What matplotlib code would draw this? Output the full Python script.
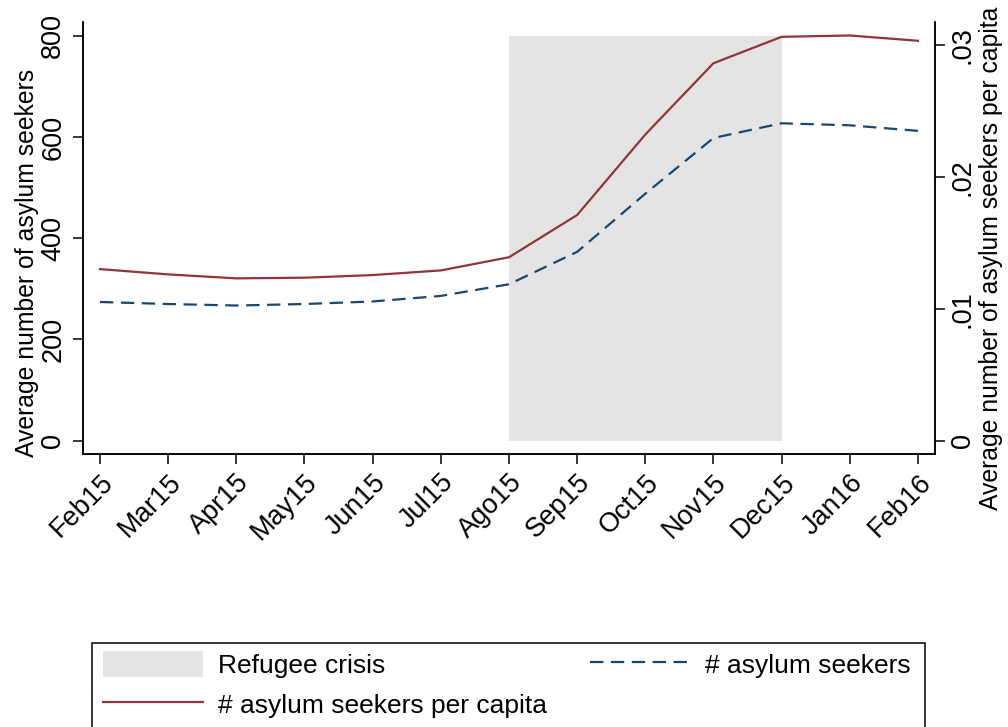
import matplotlib.pyplot as plt
from matplotlib.patches import Rectangle
from matplotlib.lines import Line2D
import numpy as np

plt.rcParams['font.family'] = ['Liberation Sans', 'DejaVu Sans']

# monthly averages
months = ['Feb15', 'Mar15', 'Apr15', 'May15', 'Jun15', 'Jul15', 'Ago15',
          'Sep15', 'Oct15', 'Nov15', 'Dec15', 'Jan16', 'Feb16']
seekers = [274, 270, 267, 270, 275, 286, 309, 373, 488, 598, 627, 623, 612]
per_capita = [0.0130, 0.0126, 0.0123, 0.01235, 0.01255, 0.0129, 0.0139,
              0.0171, 0.0232, 0.0286, 0.0306, 0.0307, 0.0303]
crisis_start, crisis_end = 'Ago15', 'Dec15'
crisis_top = 800

left_ticks = [0, 200, 400, 600, 800]
right_ticks = [0, 0.01, 0.02, 0.03]
right_labels = ['0', '.01', '.02', '.03']

navy = '#1a476f'
maroon = '#90353b'
shade = '#e4e4e4'
fs = 19.5      # tick labels
fs_title = 17.8
fs_leg = 19
dash = (0, (6, 3.4))

x = np.arange(len(months))

fig = plt.figure(figsize=(10.08, 7.27), dpi=100)
ax = fig.add_axes([0.0823, 0.3755, 0.8453, 0.5942])
ax2 = ax.twinx()

# shaded crisis period on the left scale
i0, i1 = months.index(crisis_start), months.index(crisis_end)
ax.fill_between([i0, i1], 0, crisis_top, color=shade, lw=0, zorder=0)

ax.plot(x, seekers, color=navy, lw=1.6, ls=dash, zorder=2)
ax2.plot(x, per_capita, color=maroon, lw=1.6, zorder=3)

ax.set_xlim(-0.25, 12.25)
ax.set_ylim(-26.3, 827)
ax2.set_ylim(-0.001008, 0.03172)

ax.set_xticks(x)
ax.set_xticklabels(months, rotation=45, ha='right', rotation_mode='anchor',
                   fontsize=fs)
ax.set_yticks(left_ticks)
ax.set_yticklabels([str(t) for t in left_ticks], rotation=90, va='center',
                   fontsize=fs)
ax2.set_yticks(right_ticks)
ax2.set_yticklabels(right_labels, rotation=90, va='center', fontsize=fs)

for a in (ax, ax2):
    a.tick_params(direction='out', length=7, width=1.1, colors='black')
    a.spines['top'].set_visible(False)
    for s in ('left', 'right', 'bottom'):
        a.spines[s].set_linewidth(1.1)
ax.tick_params(axis='x', pad=4)
ax.tick_params(axis='y', pad=5)

ax.set_ylabel('Average number of asylum seekers', fontsize=fs_title)
ax2.set_ylabel('Average number of asylum seekers per capita',
               fontsize=fs_title, rotation=90)
ax.yaxis.set_label_coords(-0.066, 0.442)
ax2.yaxis.set_label_coords(1.066, 0.452)
ax.yaxis.label.set_va('center')
ax2.yaxis.label.set_va('center')

# legend below the plot, frame runs off the bottom edge
handles = [Rectangle((0, 0), 1, 1, facecolor=shade, edgecolor='none'),
           Line2D([], [], color=maroon, lw=1.6),
           Line2D([], [], color=navy, lw=1.6, ls=dash)]
labels = ['Refugee crisis', '# asylum seekers per capita', '# asylum seekers']
fig.legend(handles, labels, ncol=2, loc='upper left', frameon=False,
           bbox_to_anchor=(0.0913, 0.1185), fontsize=fs_leg, handlelength=3.8,
           handleheight=1.1, handletextpad=0.57, columnspacing=1.63,
           labelspacing=0.5, borderaxespad=0)
fig.patches.append(Rectangle((0.0913, -0.05), 0.8264, 0.165,
                             transform=fig.transFigure, fill=False,
                             edgecolor='black', lw=1.1))

fig.savefig('out.png', dpi=100)
